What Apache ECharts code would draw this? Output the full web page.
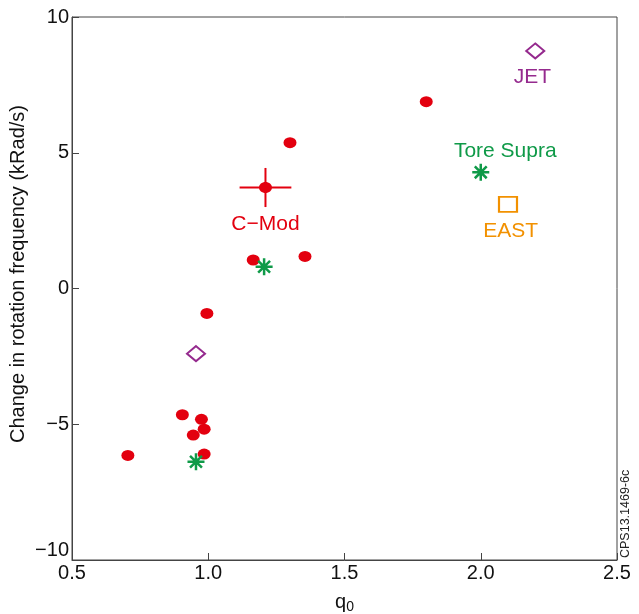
<!DOCTYPE html>
<html>
<head>
<meta charset="utf-8">
<script src="https://cdn.jsdelivr.net/npm/echarts@6/dist/echarts.min.js"></script>
<style>
  html, body { margin: 0; padding: 0; background: #fff; }
  #chart { width: 639px; height: 614px; }
</style>
</head>
<body>
<div id="chart"></div>
<script>
// q0 vs change in rotation frequency (kRad/s)
const cmodPoints = [
  [0.705, -6.15], [0.905, -4.65], [0.975, -4.82], [0.985, -5.18], [0.945, -5.40],
  [0.985, -6.10], [0.995, -0.92], [1.165, 1.05], [1.30, 5.37], [1.355, 1.18],
  [1.80, 6.88]
];
// C-Mod averaged point with error bars: [q0, value, q0 err, value err]
const cmodAvg = [[1.21, 3.72, 0.095, 0.72]];
const toreSupraPoints = [[1.205, 0.80], [0.955, -6.38], [2.00, 4.28]];
const jetPoints = [[0.955, -2.40], [2.20, 8.75]];
const eastPoints = [[2.10, 3.10]];

// text labels and where they sit: [q0, value]
const labelNames = ['C\u2212Mod', 'Tore Supra', 'JET', 'EAST'];
const labelPos = [[1.21, 2.38], [2.09, 5.07], [2.19, 7.80], [2.11, 2.12]];

const RED = '#e3000f';
const GREEN = '#0f9a48';
const PURPLE = '#952a8e';
const ORANGE = '#f29100';
const FONT = '"Liberation Sans", Arial, sans-serif';

const chart = echarts.init(document.getElementById('chart'));

const minus = v => String(v).replace('-', '\u2212');

const option = {
  animation: false,
  grid: {
    left: 72, right: 22, top: 17, bottom: 54,
    outerBoundsMode: 'none',
    show: true, borderColor: '#444', borderWidth: 1
  },
  xAxis: {
    type: 'value',
    min: 0.5, max: 2.5, interval: 0.5,
    name: '{q|q}{s|0}',
    nameLocation: 'middle',
    nameGap: 30,
    nameTextStyle: {
      rich: {
        q: { fontSize: 20, fontFamily: FONT, color: '#111' },
        s: { fontSize: 14, fontFamily: FONT, color: '#111', padding: [10, 0, 0, 0] }
      }
    },
    axisLine: { onZero: false, lineStyle: { color: '#444' } },
    axisTick: { inside: true, length: 7, lineStyle: { color: '#444' } },
    axisLabel: {
      fontSize: 20, fontFamily: FONT, color: '#111', margin: 3,
      formatter: v => v.toFixed(1)
    },
    splitLine: { show: false }
  },
  yAxis: {
    type: 'value',
    min: -10, max: 10, interval: 5,
    axisLine: { onZero: false, lineStyle: { color: '#444' } },
    axisTick: { inside: true, length: 7, lineStyle: { color: '#444' } },
    axisLabel: {
      fontSize: 20, fontFamily: FONT, color: '#111', margin: 3,
      verticalAlignMinLabel: 'bottom',
      formatter: v => minus(v)
    },
    splitLine: { show: false }
  },
  series: [
    {
      name: 'C-Mod',
      type: 'scatter',
      data: cmodPoints,
      symbol: 'circle',
      symbolSize: [13, 11],
      itemStyle: { color: RED, opacity: 1 }
    },
    {
      name: 'C-Mod avg',
      type: 'custom',
      data: cmodAvg,
      renderItem: (params, api) => {
        const x = api.value(0), y = api.value(1);
        const dx = api.value(2), dy = api.value(3);
        const c = api.coord([x, y]);
        const l = api.coord([x - dx, y]);
        const r = api.coord([x + dx, y]);
        const t = api.coord([x, y + dy]);
        const b = api.coord([x, y - dy]);
        const line = { stroke: RED, lineWidth: 2 };
        return {
          type: 'group',
          children: [
            { type: 'line', shape: { x1: l[0], y1: l[1], x2: r[0], y2: r[1] }, style: line },
            { type: 'line', shape: { x1: t[0], y1: t[1], x2: b[0], y2: b[1] }, style: line },
            { type: 'ellipse', shape: { cx: c[0], cy: c[1], rx: 6.5, ry: 5.5 }, style: { fill: RED } }
          ]
        };
      }
    },
    {
      name: 'Tore Supra',
      type: 'scatter',
      data: toreSupraPoints,
      symbol: 'path://M0,-10L0,10M-10,0L10,0M-7,-7L7,7M-7,7L7,-7',
      symbolSize: 17,
      itemStyle: { color: 'none', borderColor: GREEN, borderWidth: 2.5, opacity: 1 }
    },
    {
      name: 'JET',
      type: 'scatter',
      data: jetPoints,
      symbol: 'diamond',
      symbolSize: [18, 15],
      itemStyle: { color: 'none', borderColor: PURPLE, borderWidth: 2, opacity: 1 }
    },
    {
      name: 'EAST',
      type: 'scatter',
      data: eastPoints,
      symbol: 'rect',
      symbolSize: [18, 15],
      itemStyle: { color: 'none', borderColor: ORANGE, borderWidth: 2, opacity: 1 }
    },
    {
      name: 'labels',
      type: 'scatter',
      symbolSize: 0,
      silent: true,
      itemStyle: { opacity: 1 },
      data: labelPos.map((p, i) => ({
        value: p,
        label: {
          show: true,
          position: 'inside',
          formatter: labelNames[i],
          fontSize: 21,
          fontFamily: FONT,
          color: [RED, GREEN, PURPLE, ORANGE][i]
        }
      }))
    }
  ],
  graphic: [
    {
      // y axis title, drawn by hand so it can sit where the original has it
      type: 'text',
      x: 8, y: 274,
      rotation: Math.PI / 2,
      style: {
        text: 'Change in rotation frequency (kRad/s)',
        fontSize: 20, fontFamily: FONT, fill: '#111',
        align: 'center', verticalAlign: 'top'
      }
    },
    {
      type: 'text',
      x: 619, y: 558,
      rotation: Math.PI / 2,
      style: {
        text: 'CPS13.1469-6c',
        fontSize: 12.5, fontFamily: FONT, fill: '#222',
        align: 'left', verticalAlign: 'top'
      }
    }
  ]
};

chart.setOption(option);
</script>
</body>
</html>
